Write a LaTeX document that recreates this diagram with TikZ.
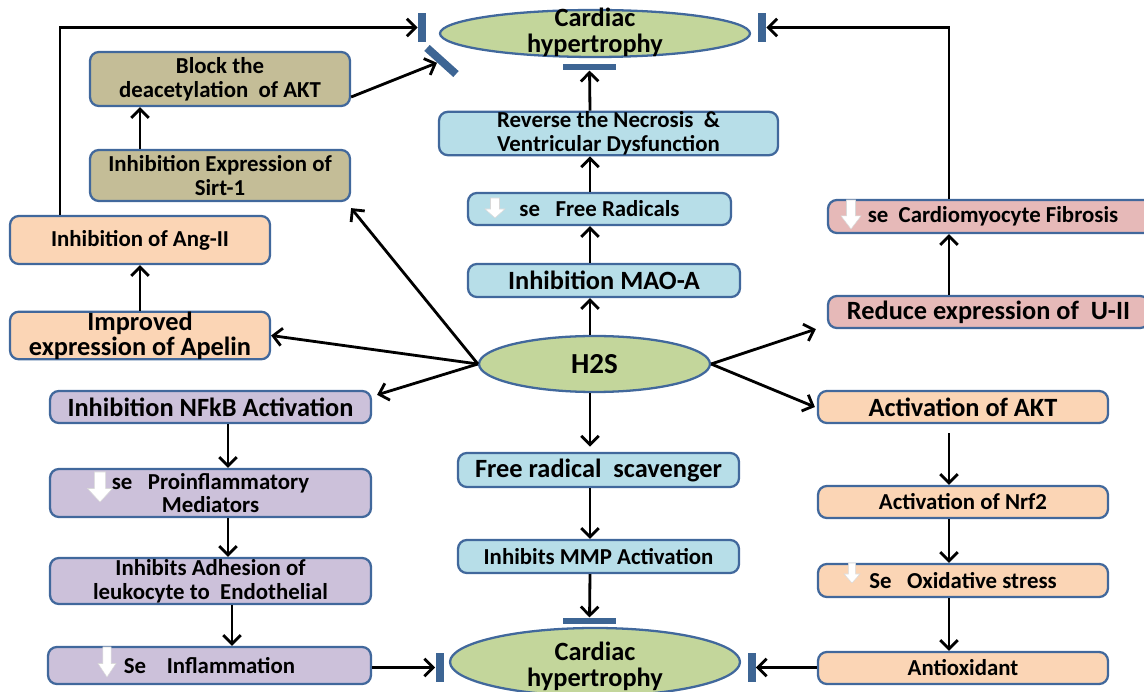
\documentclass[tikz,border=0pt]{standalone}
\usepackage{fontspec}
\setmainfont{Carlito}
\usetikzlibrary{arrows.meta,shapes.geometric}
\definecolor{edge}{HTML}{41689C}
\definecolor{barblue}{HTML}{3D6594}
\definecolor{boxtan}{HTML}{C4BD97}
\definecolor{boxpeach}{HTML}{FBD5B5}
\definecolor{boxlilac}{HTML}{CCC1DA}
\definecolor{boxblue}{HTML}{B7DEE8}
\definecolor{boxpink}{HTML}{E6B9B8}
\definecolor{ellgreen}{HTML}{C3D69B}
\newcommand\fsm{\fontsize{13}{13.5}\selectfont\bfseries}
\newcommand\flg{\fontsize{15}{14.2}\selectfont\bfseries}
\newcommand\fh{\fontsize{16.5}{17}\selectfont\bfseries}
\newcommand\ovaltext[2]{\smash{\raisebox{#1}{\begin{tabular}{@{}c@{}}#2\end{tabular}}}}
\tikzstyle{box}=[draw=edge, line width=1.3pt, rounded corners=5pt, align=center, inner sep=0pt, font=\fsm]
\tikzstyle{oval}=[ellipse, draw=edge, line width=1.3pt, fill=ellgreen, inner sep=0pt, align=center]
\tikzstyle{vbar}=[fill=barblue, minimum width=0.16cm, minimum height=0.58cm, inner sep=0pt]
\tikzstyle{hbar}=[fill=barblue, minimum width=1.06cm, minimum height=0.13cm, inner sep=0pt]
\tikzstyle{arr}=[-{Straight Barb[length=5pt,width=10pt]}, line width=1.6pt]
\tikzset{dn/.pic={\filldraw[fill=white, draw=black!15, line width=0.3pt] (-4.5,0) -- (-4.5,11) -- (-10,11) -- (0,20) -- (10,11) -- (4.5,11) -- (4.5,0) -- cycle;}}

\begin{document}
\begin{tikzpicture}[x=0.02cm,y=-0.02cm]
\useasboundingbox (0,0) rectangle (1144,692);
\node[oval, minimum width=6.2cm, minimum height=0.94cm, font=\flg] (ctop) at (595,33.5) {\ovaltext{-4pt}{Cardiac\\hypertrophy}};
\node[oval, minimum width=5.8cm, minimum height=1.36cm, font=\flg] (cbot) at (595,662) {\ovaltext{-7pt}{Cardiac\\hypertrophy}};
\node[box, fill=boxtan, minimum width=5.2cm, minimum height=1.08cm] (block) at (220,79) {Block the\\deacetylation~ of AKT};
\node[box, fill=boxtan, minimum width=5.2cm, minimum height=1.02cm] (sirt) at (220,175.5) {Inhibition Expression of\\Sirt-1};
\node[box, fill=boxpeach, minimum width=5.2cm, minimum height=0.96cm] (ang) at (140,240) {Inhibition of Ang-II};
\node[box, fill=boxpeach, minimum width=5.2cm, minimum height=0.94cm, font=\flg] (apelin) at (140,335.5) {Improved\\expression of Apelin};
\node[box, fill=boxlilac, minimum width=6.42cm, minimum height=0.64cm, font=\flg] (nfkb) at (210.5,407) {Inhibition NFkB Activation};
\node[box, fill=boxlilac, minimum width=6.42cm, minimum height=0.96cm] (proinf) at (210.5,493) {se~~ Proinflammatory\\Mediators};
\node[box, fill=boxlilac, minimum width=6.42cm, minimum height=0.92cm] (adhes) at (210.5,581) {Inhibits Adhesion of\\leukocyte to~ Endothelial};
\node[box, fill=boxlilac, minimum width=6.46cm, minimum height=0.74cm] (inflam) at (209.5,665.5) {Se~~~ Inflammation};
\node[box, fill=boxblue, minimum width=6.78cm, minimum height=0.82cm] (necro) at (608.5,133.5) {Reverse the Necrosis~ \&\\Ventricular Dysfunction};
\node[box, fill=boxblue, minimum width=5.26cm, minimum height=0.64cm] (frad) at (599.5,209) {se~~ Free Radicals};
\node[box, fill=boxblue, minimum width=5.44cm, minimum height=0.66cm, font=\flg] (mao) at (604,280.5) {Inhibition MAO-A};
\node[oval, minimum width=4.62cm, minimum height=1.12cm, font=\fh] (h2s) at (594.5,364) {H2S};
\node[box, fill=boxblue, minimum width=5.62cm, minimum height=0.68cm, font=\flg] (scav) at (598.5,470) {Free radical~ scavenger};
\node[box, fill=boxblue, minimum width=5.62cm, minimum height=0.66cm] (mmp) at (598.5,556.5) {Inhibits MMP Activation};
\node[box, fill=boxpink, minimum width=6.6cm, minimum height=0.66cm] (fibro) at (993,216.5) {se~ Cardiomyocyte Fibrosis};
\node[box, fill=boxpink, minimum width=6.42cm, minimum height=0.64cm, font=\flg] (u2) at (988.5,312) {Reduce expression of~ U-II};
\node[box, fill=boxpeach, minimum width=5.8cm, minimum height=0.64cm, font=\flg] (akt) at (963,407) {Activation of AKT};
\node[box, fill=boxpeach, minimum width=5.8cm, minimum height=0.64cm] (nrf) at (963,502) {Activation of Nrf2};
\node[box, fill=boxpeach, minimum width=5.8cm, minimum height=0.66cm] (oxid) at (963,580.5) {Se~~ Oxidative stress};
\node[box, fill=boxpeach, minimum width=5.8cm, minimum height=0.64cm] (antiox) at (963,668) {Antioxidant};
\node[vbar] (tl) at (422,27.5) {};
\node[hbar, rotate=-42, minimum width=0.78cm, minimum height=0.16cm] (dg) at (441.5,61) {};
\node[hbar] (tm) at (589.5,67) {};
\node[vbar] (tr) at (762,27.5) {};
\node[hbar] (bm) at (589.5,621) {};
\node[vbar] (bl) at (439.5,667.5) {};
\node[vbar] (br) at (751.5,667.5) {};
\coordinate (lc) at (60,0);
\coordinate (mc) at (590,0);
\coordinate (rc) at (949,0);
\coordinate (nc) at (228,0);
\coordinate (nd) at (232,0);
\pic at (495,198) {dn};
\pic[xscale=1.25,yscale=1.5] at (100,472) {dn};
\pic[xscale=0.9,yscale=1.5] at (107,647) {dn};
\pic[xscale=0.8] at (852,563) {dn};
\pic[yscale=1.45] at (851,200) {dn};
\draw[arr] (sirt.north -| ang) -- (block.south -| ang);
\draw[arr] (apelin) -- (ang);
\draw[arr] (ang.north -| lc) |- (tl);
\draw[arr] ([yshift=-0.36cm]block.east) -- (dg);
\draw[arr] (h2s.west) -- ([yshift=-0.12cm]sirt.south east);
\draw[arr] (h2s.west) -- (apelin.east);
\draw[arr] (h2s.west) -- ([xshift=0.1cm,yshift=-0.1cm]nfkb.north east);
\draw[arr] (nfkb.south -| nc) -- (proinf.north -| nc);
\draw[arr] (proinf.south -| nc) -- (adhes.north -| nc);
\draw[arr] (adhes.south -| nd) -- (inflam.north -| nd);
\draw[arr] (inflam.east |- bl) -- (bl);
\draw[arr] (h2s.north -| mc) -- (mao.south -| mc);
\draw[arr] (mao.north -| mc) -- (frad.south -| mc);
\draw[arr] (frad.north -| mc) -- (necro.south -| mc);
\draw[arr] (necro.north -| mc) -- (tm);
\draw[arr, shorten >=3pt] (h2s.south -| mc) -- (scav.north -| mc);
\draw[arr] (scav.south -| mc) -- (mmp.north -| mc);
\draw[arr] (mmp.south -| mc) -- (bm);
\draw[arr] (h2s.east) -- ([xshift=-0.22cm]u2.south west);
\draw[arr] (h2s.east) -- ([xshift=-0.04cm]akt.west);
\draw[arr] (u2.north -| rc) -- (fibro.south -| rc);
\draw[arr] (fibro.north -| rc) |- (tr);
\draw[arr, shorten <=0.18cm] (akt.south -| rc) -- (nrf.north -| rc);
\draw[arr] (nrf.south -| rc) -- (oxid.north -| rc);
\draw[arr] (oxid.south -| rc) -- (antiox.north -| rc);
\draw[arr] (antiox.west |- br) -- (br);
\end{tikzpicture}
\end{document}
